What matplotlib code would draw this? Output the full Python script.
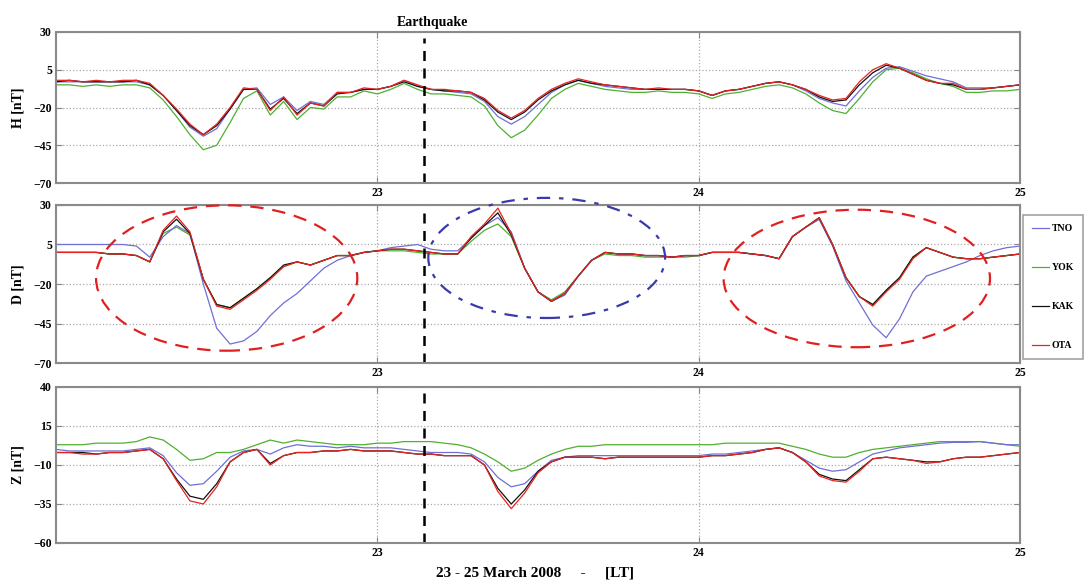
import numpy as np
import matplotlib
matplotlib.use("Agg")
import matplotlib.pyplot as plt
from matplotlib.patches import Ellipse

plt.rcParams['font.family'] = ['Liberation Serif', 'DejaVu Serif']
plt.rcParams['font.weight'] = 'bold'

# hourly samples from 22 March 00 LT to 25 March 00 LT
hours = np.arange(73)
stations = ['TNO', 'YOK', 'KAK', 'OTA']
colors = {'TNO': '#6f6fd6', 'YOK': '#4fb030', 'KAK': '#111111', 'OTA': '#e8231f'}
quake_day = 23.146

H = {
    'OTA': [-2, -2, -3, -2, -3, -2, -2, -4, -12, -21, -31, -38, -31, -20, -7, -8, -22, -13, -25, -17,
            -19, -10, -10, -7, -8, -6, -2, -5, -8, -8, -9, -10, -14, -22, -27, -22, -14, -8, -4, -1,
            -3, -5, -6, -7, -8, -7, -8, -8, -9, -12, -9, -8, -6, -4, -3, -5, -8, -12, -15, -14,
            -3, 5, 9, 6, 2, -2, -4, -4, -8, -8, -7, -6, -5],
    'KAK': [-3, -2, -3, -3, -3, -3, -2, -5, -12, -22, -32, -38, -32, -21, -8, -8, -21, -14, -24, -17,
            -19, -11, -10, -8, -8, -6, -3, -6, -8, -9, -9, -10, -15, -23, -28, -23, -15, -9, -5, -2,
            -4, -5, -6, -7, -8, -8, -8, -8, -9, -12, -9, -8, -6, -4, -3, -5, -8, -13, -16, -15,
            -5, 3, 8, 6, 2, -2, -4, -5, -8, -8, -7, -6, -5],
    'TNO': [-3, -3, -3, -3, -3, -3, -3, -5, -12, -22, -33, -39, -34, -21, -8, -7, -18, -13, -22, -16,
            -18, -10, -10, -8, -8, -6, -2, -6, -8, -9, -10, -11, -16, -26, -31, -26, -18, -10, -5, -2,
            -4, -6, -7, -8, -8, -8, -8, -8, -9, -12, -9, -8, -6, -4, -3, -5, -9, -14, -17, -19,
            -9, 0, 6, 7, 4, 1, -1, -3, -7, -7, -7, -6, -5],
    'YOK': [-5, -5, -6, -5, -6, -5, -5, -7, -15, -26, -38, -48, -45, -30, -14, -9, -25, -16, -28, -20,
            -21, -13, -13, -9, -11, -8, -4, -8, -11, -11, -12, -13, -19, -32, -40, -35, -25, -14, -8, -4,
            -6, -8, -9, -10, -10, -9, -10, -10, -11, -14, -11, -10, -8, -6, -5, -7, -11, -17, -22, -24,
            -14, -3, 5, 6, 3, -1, -4, -6, -10, -10, -9, -9, -8],
}

D = {
    'OTA': [0, 0, 0, 0, -1, -1, -2, -6, 14, 23, 13, -17, -34, -36, -30, -24, -17, -9, -6, -8,
            -5, -2, -2, 0, 1, 2, 2, 1, 0, -1, -1, 10, 18, 28, 12, -10, -25, -31, -26, -15,
            -5, 0, -1, -1, -2, -2, -3, -2, -2, 0, 0, 0, -1, -2, -4, 10, 16, 22, 5, -16,
            -28, -34, -25, -17, -4, 3, 0, -3, -4, -4, -3, -2, -1],
    'KAK': [0, 0, 0, 0, -1, -1, -2, -6, 13, 21, 12, -17, -33, -35, -29, -23, -16, -8, -6, -8,
            -5, -2, -2, 0, 1, 2, 2, 1, 0, -1, -1, 9, 17, 25, 11, -10, -25, -31, -26, -15,
            -5, 0, -1, -1, -2, -2, -3, -2, -2, 0, 0, 0, -1, -2, -4, 10, 16, 22, 5, -16,
            -28, -33, -24, -16, -3, 3, 0, -3, -4, -4, -3, -2, -1],
    'TNO': [5, 5, 5, 5, 5, 5, 4, -3, 10, 17, 12, -20, -48, -58, -56, -50, -40, -32, -26, -18,
            -10, -5, -2, 0, 1, 3, 4, 5, 2, 1, 1, 9, 17, 22, 13, -10, -25, -31, -27, -15,
            -5, 0, -1, -1, -2, -2, -3, -2, -2, 0, 0, 0, -1, -2, -4, 10, 16, 21, 4, -18,
            -32, -46, -54, -42, -25, -15, -12, -9, -6, -2, 1, 3, 4],
    'YOK': [0, 0, 0, 0, -1, -1, -2, -6, 12, 16, 11, -17, -33, -35, -29, -23, -16, -9, -6, -8,
            -5, -2, -2, 0, 1, 1, 1, 0, -1, -1, -1, 7, 14, 18, 10, -10, -25, -30, -25, -15,
            -5, -1, -2, -2, -3, -3, -3, -3, -2, 0, 0, 0, -1, -2, -4, 10, 16, 21, 5, -16,
            -28, -33, -24, -16, -3, 3, 0, -3, -4, -4, -3, -2, -1],
}

Z = {
    'OTA': [-2, -2, -3, -3, -2, -2, -1, 0, -6, -20, -33, -35, -24, -8, -2, 0, -10, -4, -2, -2,
            -1, -1, 0, -1, -1, -1, -2, -3, -3, -4, -4, -4, -10, -27, -38, -28, -15, -8, -5, -5,
            -5, -6, -5, -5, -5, -5, -5, -5, -5, -4, -4, -3, -2, 0, 1, -2, -8, -17, -20, -21,
            -14, -6, -5, -6, -7, -9, -8, -6, -5, -5, -4, -3, -2],
    'KAK': [-2, -2, -2, -3, -2, -2, -1, 0, -6, -19, -30, -32, -22, -8, -2, 0, -9, -4, -2, -2,
            -1, -1, 0, -1, -1, -1, -2, -3, -3, -4, -4, -4, -10, -25, -35, -26, -14, -8, -5, -5,
            -5, -6, -5, -5, -5, -5, -5, -5, -5, -4, -4, -3, -2, 0, 1, -2, -8, -16, -19, -20,
            -13, -6, -5, -6, -7, -8, -8, -6, -5, -5, -4, -3, -2],
    'TNO': [0, -1, -1, -1, -1, -1, 0, 1, -4, -15, -23, -22, -14, -5, -1, 0, -3, 1, 3, 2,
            2, 1, 2, 1, 1, 1, 0, -1, -2, -2, -2, -3, -8, -18, -24, -22, -14, -7, -5, -4,
            -4, -4, -4, -4, -4, -4, -4, -4, -4, -3, -3, -2, -1, 0, 1, -2, -7, -12, -14, -13,
            -8, -3, -1, 1, 2, 3, 4, 4.5, 4.5, 5, 4, 3, 3],
    'YOK': [3, 3, 3, 4, 4, 4, 5, 8, 6, 0, -7, -6, -2, -2, 0, 3, 6, 4, 6, 5,
            4, 3, 3, 3, 4, 4, 5, 5, 5, 4, 3, 1, -3, -8, -14, -12, -7, -3, 0, 2,
            2, 3, 3, 3, 3, 3, 3, 3, 3, 3, 4, 4, 4, 4, 4, 2, 0, -3, -5, -5,
            -2, 0, 1, 2, 3, 4, 5, 5, 5, 5, 4, 3, 2],
}

panels = [('H [nT]', H, [30, 5, -20, -45, -70]),
          ('D [nT]', D, [30, 5, -20, -45, -70]),
          ('Z [nT]', Z, [40, 15, -10, -35, -60])]
boxes = [(0.0517, 0.6877, 0.8893, 0.2577),
         (0.0517, 0.3805, 0.8893, 0.2697),
         (0.0517, 0.0734, 0.8893, 0.2662)]

fig = plt.figure(figsize=(10.84, 5.86), dpi=100)
days = 22 + hours / 24.0
axes = []
for (label, data, yt), box in zip(panels, boxes):
    ax = fig.add_axes(box)
    for st in ['YOK', 'TNO', 'KAK', 'OTA']:
        ax.plot(days, data[st], color=colors[st], lw=0.9, label=st)
    ax.set_xlim(22, 25)
    ax.set_ylim(yt[-1], yt[0])
    ax.set_yticks(yt)
    ax.set_xticks([23, 24, 25])
    ax.tick_params(axis='both', labelsize=8.5, direction='in', length=4, color='#888888')
    ax.tick_params(axis='x', top=True, pad=3)
    ax.tick_params(axis='y', right=True, pad=3)
    ax.grid(True, linestyle=':', color='#aaaaaa', lw=0.9)
    for s in ax.spines.values():
        s.set_color('#8a8a8a')
        s.set_linewidth(1.5)
    ax.set_ylabel(label, fontsize=10, fontweight='bold', labelpad=6)
    ax.axvline(quake_day, color='black', ls=(0, (4, 3)), lw=1.8,
               ymax=(0.96 if label.startswith('H') else 1.0))
    axes.append(ax)

# highlighted events on the D panel
ax2 = axes[1]
for cx, cy, w, h, col, ls in [(22.531, -16.2, 0.813, 92, '#e02020', (0, (6, 4))),
                              (23.527, -3.5, 0.737, 76, '#3a3aa8', (0, (6, 4, 2, 4))),
                              (24.492, -16.5, 0.829, 87, '#e02020', (0, (6, 4)))]:
    ax2.add_patch(Ellipse((cx, cy), w, h, fill=False, edgecolor=col, lw=1.6,
                          ls=ls, clip_on=False, zorder=5))

handles, labels = ax2.get_legend_handles_labels()
order = [labels.index(s) for s in stations]
leg = ax2.legend([handles[i] for i in order], stations, loc='center left',
                 bbox_to_anchor=(1.003, 0.48), fontsize=7, frameon=True,
                 fancybox=False, edgecolor='#8a8a8a', handlelength=1.8,
                 labelspacing=3.1, borderpad=0.9, handletextpad=0.25,
                 borderaxespad=0.0)
leg.get_frame().set_linewidth(1.2)
leg._legend_box.sep = 0

fig.text(0.399, 0.962, 'Earthquake', fontsize=10, fontweight='bold', ha='center', va='center')
fig.text(0.494, 0.022, '23 - 25 March 2008     -     [LT]', fontsize=11,
         fontweight='bold', ha='center', va='center')

fig.savefig('out.png', dpi=100)
